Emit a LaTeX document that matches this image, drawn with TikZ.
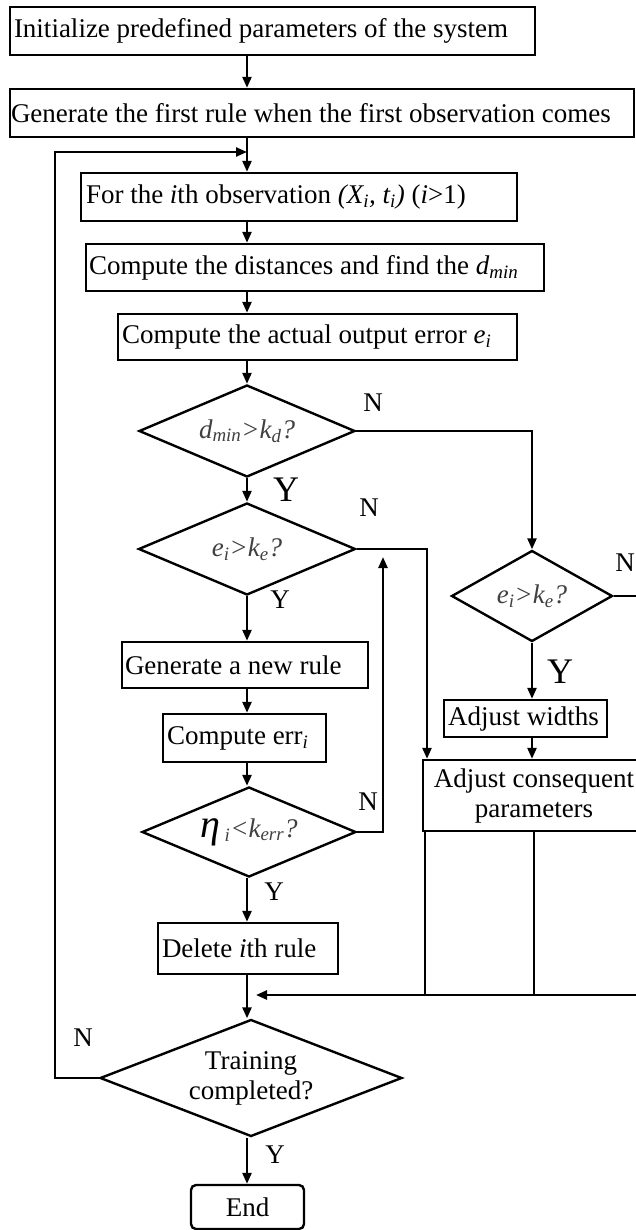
\documentclass[tikz,border=0pt]{standalone}
\usepackage{fontspec}
\setmainfont{Liberation Serif}
\usetikzlibrary{arrows.meta,shapes.geometric}
\newcommand\lbx[2]{\makebox[#1][l]{#2}}
\begin{document}
\begin{tikzpicture}[x=1pt,y=-1pt,
  base/.style={font=\fontsize{27}{30}\selectfont},
  box/.style={base,draw,line width=2.4pt,rectangle,inner ysep=0pt,inner xsep=4pt},
  dia/.style={base,draw,line width=2.4pt,diamond,inner sep=0pt,text=black!75,align=center},
  lab/.style={base,inner sep=0pt},
  biglab/.style={font=\fontsize{36}{40}\selectfont,inner sep=0pt},
  arr/.style={line width=2.4pt,-{Triangle[length=11pt,width=9pt]}},
  conn/.style={line width=2.4pt}]
\useasboundingbox (0,0) rectangle (636,1230);
\clip (0,0) rectangle (636,1230);
\fill[white] (0,0) rectangle (636,1230);

% boxes
\node[box,minimum width=525pt,minimum height=48pt] (b1) at (272.5,31) {\lbx{517pt}{Initialize predefined parameters of the system}};
\node[box,inner xsep=1pt,minimum width=624pt,minimum height=48pt] (b2) at (322,113) {\lbx{622pt}{Generate the first rule when the first observation comes}};
\node[box,inner xsep=5pt,minimum width=436pt,minimum height=48pt] (b3) at (299,197) {\lbx{426pt}{For the \textit{i}th observation \textit{(X\textsubscript{i}, t\textsubscript{i})} (\textit{i}>1)}};
\node[box,inner xsep=3pt,minimum width=458pt,minimum height=47pt] (b4) at (315,267.5) {\lbx{452pt}{Compute the distances and find the \textit{d}\textsubscript{\textit{min}}}};
\node[box,minimum width=399pt,minimum height=46pt] (b5) at (317.5,337) {\lbx{391pt}{Compute the actual output error \textit{e}\textsubscript{\textit{i}}}};

\node[dia,aspect=2.35,minimum width=216pt,minimum height=92pt] (d1) at (247,431) {\itshape d\textsubscript{min}>k\textsubscript{d}?};
\node[dia,aspect=2.35,minimum width=217pt,minimum height=92pt] (d2) at (247,549) {\itshape e\textsubscript{i}>k\textsubscript{e}?};
\node[dia,aspect=1.77,minimum width=161pt,minimum height=91pt] (d3) at (532,596) {\itshape e\textsubscript{i}>k\textsubscript{e}?};

\node[box,inner xsep=3pt,minimum width=246pt,minimum height=46pt] (gen) at (245,665) {\lbx{240pt}{Generate a new rule}};
\node[box,minimum width=163pt,minimum height=48pt] (err) at (244.5,738) {\lbx{155pt}{Compute err\textsubscript{\textit{i}}}};
\node[dia,aspect=2.38,minimum width=214pt,minimum height=90pt] (d4) at (249,832) {{\color{black}\fontsize{40}{40}\selectfont\itshape η}\,{\itshape\textsubscript{i}<k\textsubscript{err}?}};
\node[box,minimum width=180pt,minimum height=51pt] (del) at (248,948.5) {\lbx{172pt}{Delete \textit{i}th rule}};
\node[dia,aspect=2.58,minimum width=302pt,minimum height=117pt,text=black] (d5) at (251,1078) {Training\\completed?};
\node[box,rounded corners=5pt,minimum width=113pt,minimum height=44pt] (end) at (247.5,1207) {End};

\node[box,minimum width=163pt,minimum height=37pt] (adjw) at (525.5,718.5) {\lbx{155pt}{Adjust widths}};
\node[box,align=center,minimum width=222pt,minimum height=71pt] (adjc) at (534,795.5) {Adjust consequent\\parameters};

% helper coordinates
\coordinate (col) at (247,0);
\coordinate (loopin) at (247,152);
\coordinate (lx) at (55,0);
\coordinate (rx) at (427,0);
\coordinate (upend) at (383,557);
\coordinate (mergein) at (256,995);
\coordinate (rt) at (640,995);
\coordinate (l1) at (425,0);
\coordinate (l2) at (534,0);

% main column
\draw[arr] (col |- b1.south) -- (col |- b2.north);
\draw[arr] (col |- b2.south) -- (col |- b3.north);
\draw[arr] (col |- b3.south) -- (col |- b4.north);
\draw[arr] (col |- b4.south) -- (col |- b5.north);
\draw[arr] (col |- b5.south) -- (d1.north);
\draw[arr] (d1.south) -- (d2.north);
\draw[arr] (d2.south) -- (col |- gen.north);
\draw[arr] (col |- gen.south) -- (col |- err.north);
\draw[arr] (col |- err.south) -- (col |- d4.north);
\draw[arr] (col |- d4.south) -- (col |- del.north);
\draw[arr] (col |- del.south) -- (col |- d5.north);
\draw[arr] (col |- d5.south) -- (col |- end.north);

% loop back
\draw[arr] (d5.west) -- (lx |- d5.west) -- (lx |- loopin) -- (loopin);

% branches
\draw[arr] (d1.east) -| (d3.north);
\draw[arr] (d2.east) -| (rx |- adjc.north);
\draw[arr] (d4.east) -| (upend);
\draw[arr] (d3.south) -- (d3.south |- adjw.north);
\draw[arr] (d3.south |- adjw.south) -- (d3.south |- adjc.north);
\draw[arr] (d3.east) -| (rt) -- (mergein);
\draw[conn] (l1 |- adjc.south) -- (l1 |- mergein);
\draw[conn] (l2 |- adjc.south) -- (l2 |- mergein);

% labels
\node[lab] (n1) at (373,403) {N};
\node[biglab] (y1) at (286,490) {Y};
\node[lab] (n2) at (369,508) {N};
\node[lab] (y2) at (280,600) {Y};
\node[lab] (n3) at (625,563) {N};
\node[biglab] (y3) at (560,672) {Y};
\node[lab] (n4) at (368,802) {N};
\node[lab] (y4) at (274,892) {Y};
\node[lab] (n5) at (83,1038) {N};
\node[lab] (y5) at (275,1155) {Y};
\end{tikzpicture}
\end{document}
